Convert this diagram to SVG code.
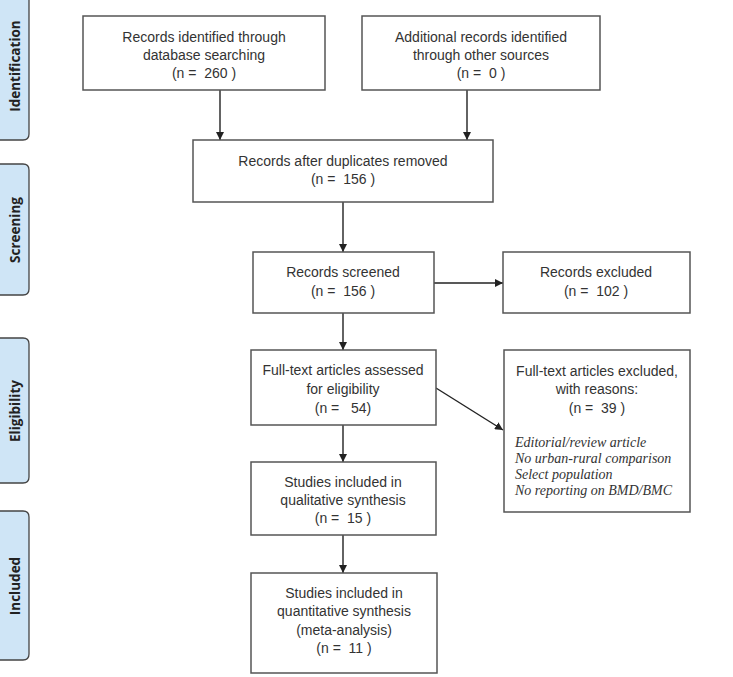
<svg xmlns="http://www.w3.org/2000/svg" width="733" height="677" viewBox="0 0 733 677">
<style>
text{white-space:pre}
.tab{fill:#cfe5f6;stroke:#444;stroke-width:1.3}
.tabt{font-family:"Open Sans","DejaVu Sans",sans-serif;font-weight:bold;font-size:13.5px;fill:#222;text-anchor:middle}
.box{fill:#fff;stroke:#555;stroke-width:1.5}
.t{font-family:"Liberation Sans",Arial,sans-serif;font-size:14px;fill:#333;text-anchor:middle}
.it{font-family:"Liberation Serif","Times New Roman",serif;font-style:italic;font-size:14px;fill:#333}
.c{stroke:#222;stroke-width:1.4;fill:none;marker-end:url(#ah)}
</style>
<defs>
<marker id="ah" viewBox="0 0 10 10" refX="10" refY="5" markerWidth="8" markerHeight="8" markerUnits="userSpaceOnUse" orient="auto">
<path d="M0,0 L10,5 L0,10 z" fill="#222"/>
</marker>
</defs>
<rect width="733" height="677" fill="#fff"/>
<g id="tab-identification">
<path class="tab" d="M-5,-5 H29 V134 Q29,140 23,140 H-5 z"/>
<text class="tabt" transform="translate(20,66) rotate(-90)">Identification</text>
</g>
<g id="tab-screening">
<path class="tab" d="M-5,164 H23 Q29,164 29,170 V289 Q29,295 23,295 H-5 z"/>
<text class="tabt" transform="translate(20,230) rotate(-90)">Screening</text>
</g>
<g id="tab-eligibility">
<path class="tab" d="M-5,338 H23 Q29,338 29,344 V477 Q29,483 23,483 H-5 z"/>
<text class="tabt" transform="translate(20,411) rotate(-90)">Eligibility</text>
</g>
<g id="tab-included">
<path class="tab" d="M-5,511 H23 Q29,511 29,517 V654 Q29,660 23,660 H-5 z"/>
<text class="tabt" transform="translate(20,586) rotate(-90)">Included</text>
</g>
<g id="connectors">
<path class="c" d="M220,90 V140"/>
<path class="c" d="M467,90 V140"/>
<path class="c" d="M343,202 V252"/>
<path class="c" d="M434,283 H503"/>
<path class="c" d="M343,313 V350"/>
<path class="c" d="M436,388 L503,430"/>
<path class="c" d="M343,425 V462"/>
<path class="c" d="M343,535 V573"/>
</g>
<g id="n-database">
<rect class="box" x="83" y="16" width="242" height="74"/>
<text class="t" x="204" y="42">Records identified through</text>
<text class="t" x="204" y="60">database searching</text>
<text class="t" x="204" y="78">(n =  260 )</text>
</g>
<g id="n-other">
<rect class="box" x="362" y="16" width="238" height="74"/>
<text class="t" x="481" y="42">Additional records identified</text>
<text class="t" x="481" y="60">through other sources</text>
<text class="t" x="481" y="78">(n =  0 )</text>
</g>
<g id="n-duplicates">
<rect class="box" x="193" y="140" width="300" height="62"/>
<text class="t" x="343" y="166">Records after duplicates removed</text>
<text class="t" x="343" y="184">(n =  156 )</text>
</g>
<g id="n-screened">
<rect class="box" x="253" y="252" width="181" height="61"/>
<text class="t" x="343" y="277">Records screened</text>
<text class="t" x="343" y="296">(n =  156 )</text>
</g>
<g id="n-excluded">
<rect class="box" x="503" y="252" width="187" height="61"/>
<text class="t" x="596" y="277">Records excluded</text>
<text class="t" x="596" y="296">(n =  102 )</text>
</g>
<g id="n-fulltext">
<rect class="box" x="251" y="350" width="185" height="75"/>
<text class="t" x="343" y="375">Full-text articles assessed</text>
<text class="t" x="343" y="394">for eligibility</text>
<text class="t" x="343" y="413">(n =   54)</text>
</g>
<g id="n-fulltext-excluded">
<rect class="box" x="504" y="350" width="186" height="162"/>
<text class="t" x="597" y="376">Full-text articles excluded,</text>
<text class="t" x="597" y="394">with reasons:</text>
<text class="t" x="597" y="413">(n =  39 )</text>
<text class="it" x="515" y="447">Editorial/review article</text>
<text class="it" x="515" y="463">No urban-rural comparison</text>
<text class="it" x="515" y="479">Select population</text>
<text class="it" x="515" y="495">No reporting on BMD/BMC</text>
</g>
<g id="n-qualitative">
<rect class="box" x="251" y="462" width="185" height="73"/>
<text class="t" x="343" y="487">Studies included in</text>
<text class="t" x="343" y="505">qualitative synthesis</text>
<text class="t" x="343" y="523">(n =  15 )</text>
</g>
<g id="n-quantitative">
<rect class="box" x="251" y="573" width="186" height="100"/>
<text class="t" x="344" y="598">Studies included in</text>
<text class="t" x="344" y="616">quantitative synthesis</text>
<text class="t" x="344" y="635">(meta-analysis)</text>
<text class="t" x="344" y="653">(n =  11 )</text>
</g>
</svg>
